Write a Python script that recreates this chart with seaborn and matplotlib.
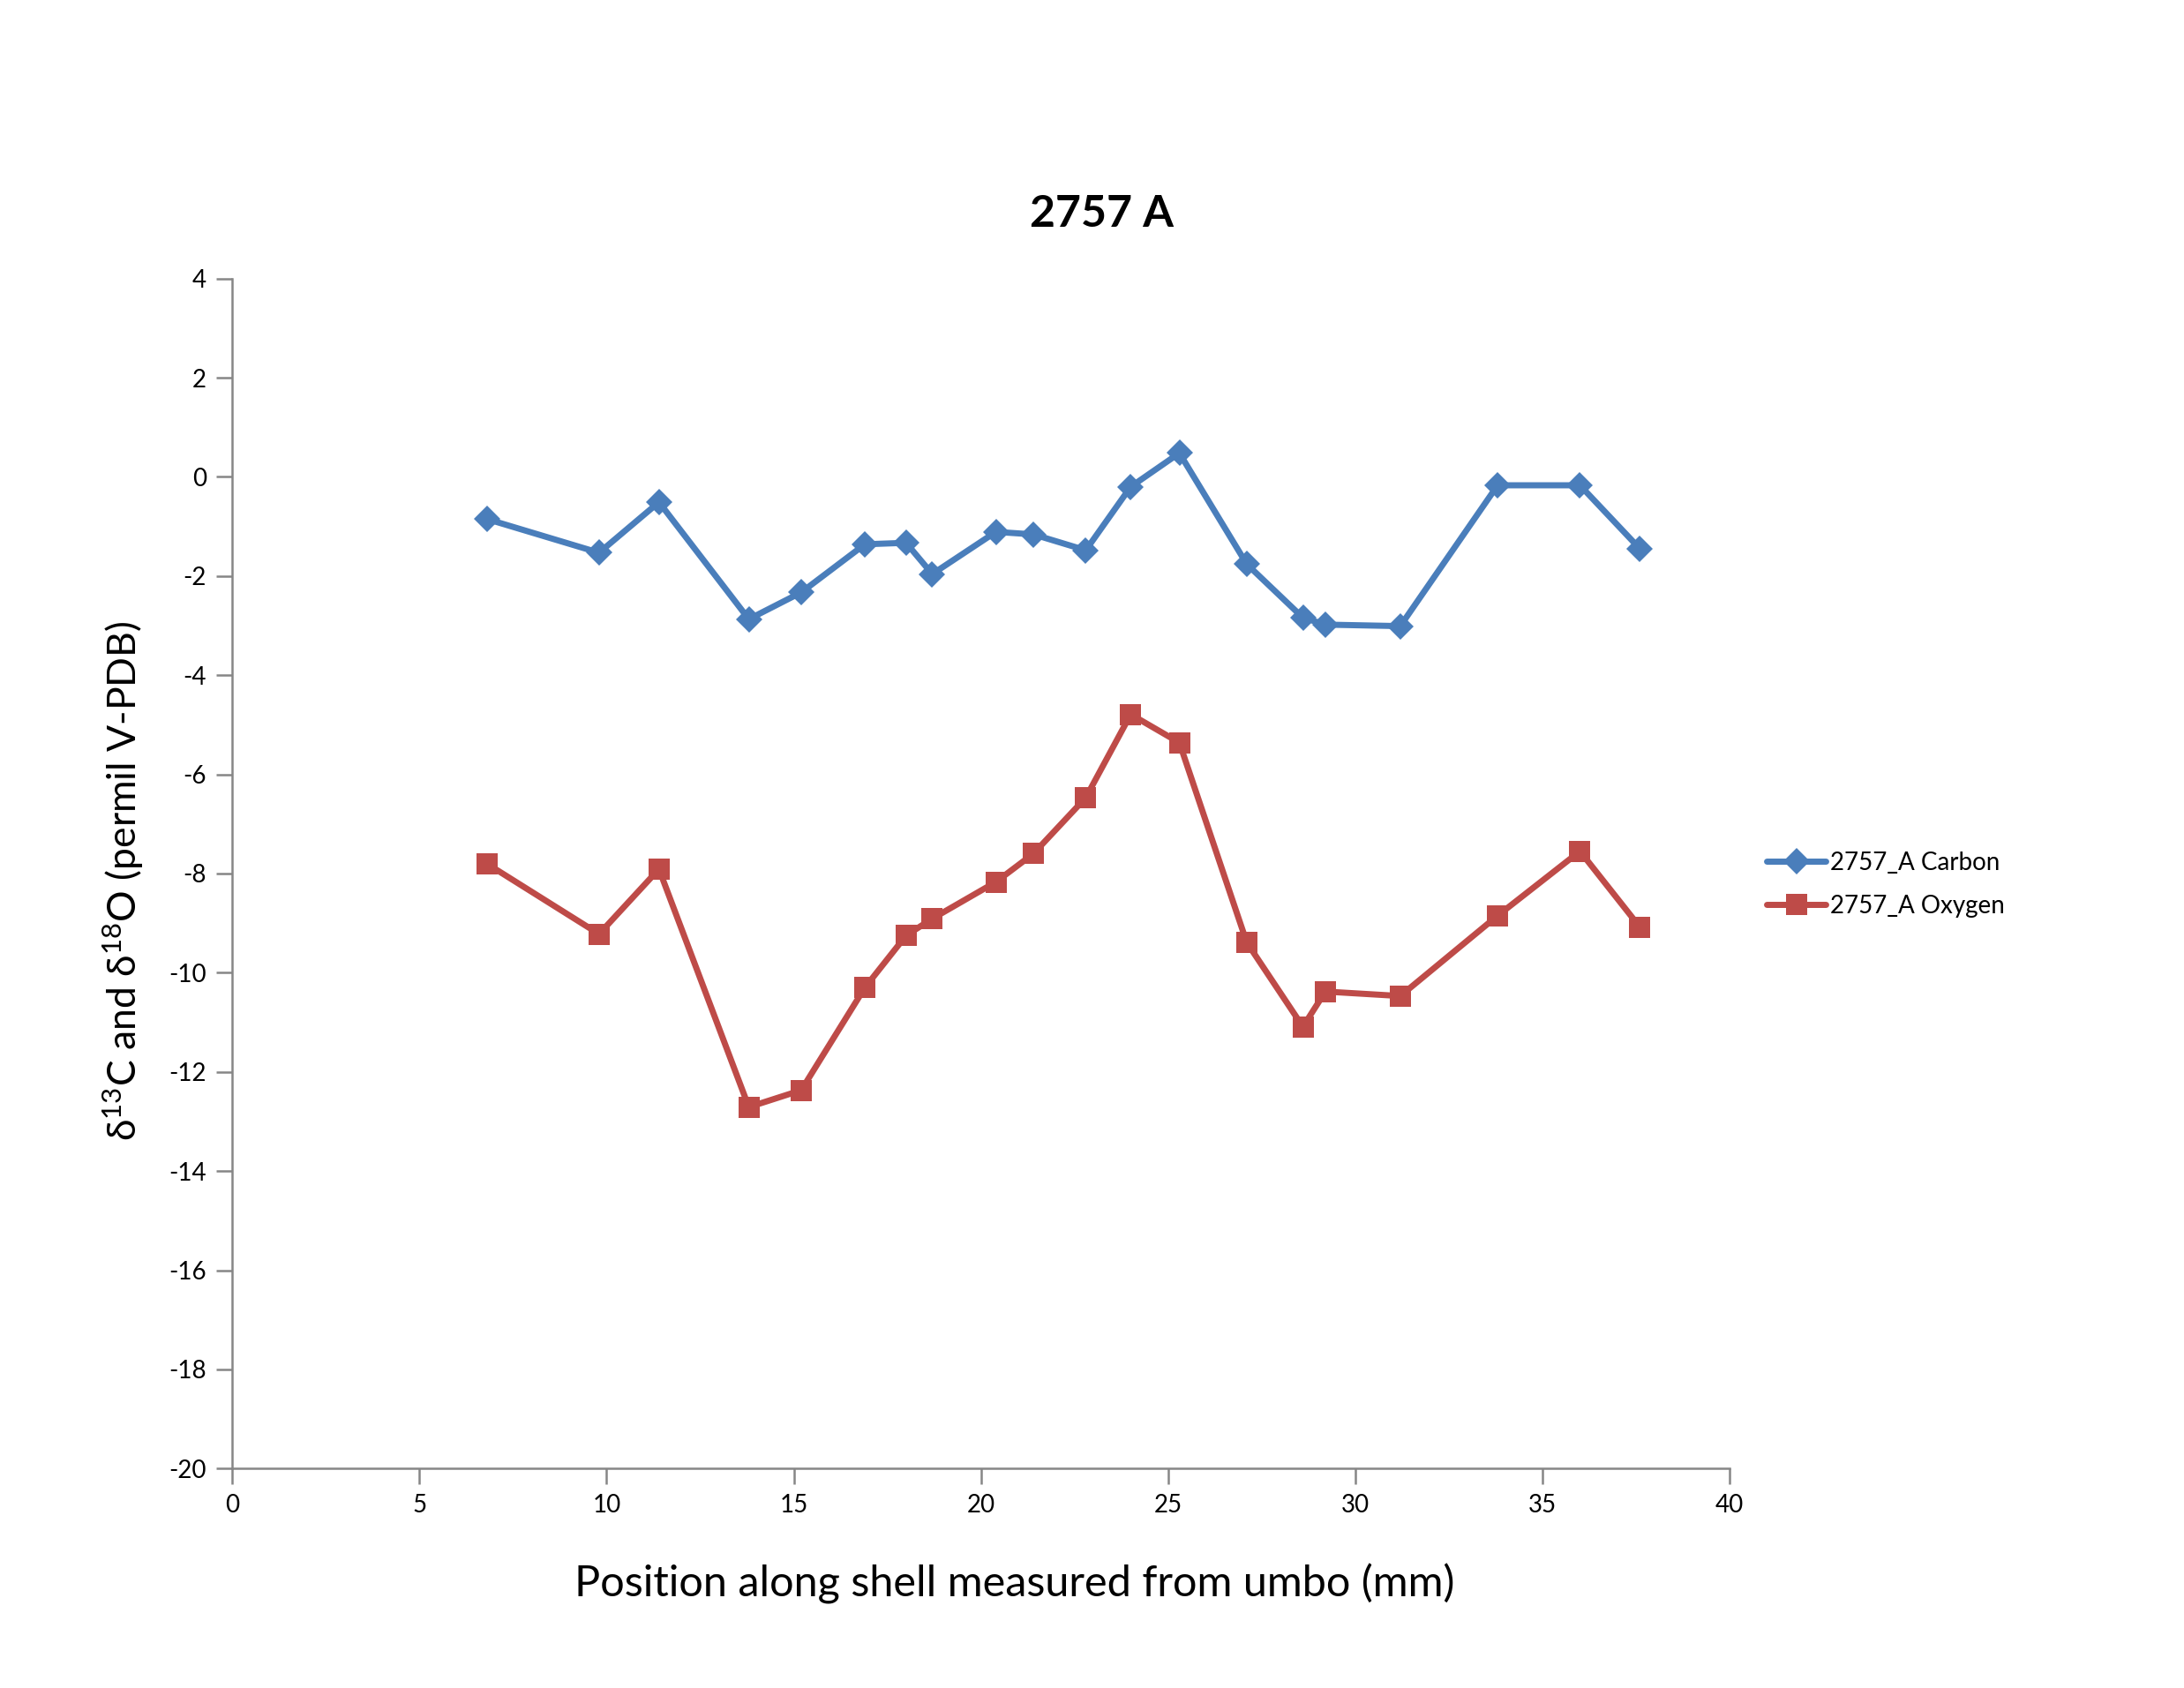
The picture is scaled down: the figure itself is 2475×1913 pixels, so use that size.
import seaborn as sns
import matplotlib.pyplot as plt
import pandas as pd

# data
position = [6.8, 9.8, 11.4, 13.8, 15.2, 16.9, 18.0, 18.7, 20.4, 21.4,
            22.8, 24.0, 25.3, 27.1, 28.6, 29.2, 31.2, 33.8, 36.0, 37.6]
carbon = [-0.85, -1.53, -0.51, -2.87, -2.33, -1.36, -1.33, -1.96, -1.11, -1.16,
          -1.48, -0.20, 0.48, -1.76, -2.84, -2.98, -3.01, -0.17, -0.17, -1.45]
oxygen = [-7.80, -9.22, -7.91, -12.71, -12.37, -10.30, -9.25, -8.91, -8.17, -7.60,
          -6.47, -4.79, -5.36, -9.39, -11.09, -10.38, -10.47, -8.85, -7.55, -9.08]
series_names = ['2757_A Carbon', '2757_A Oxygen']
x_ticks = list(range(0, 45, 5))
y_ticks = list(range(-20, 6, 2))

df = pd.DataFrame({'pos': position, 'carbon': carbon, 'oxygen': oxygen})

sns.set_theme(style='white')
plt.rcParams['font.family'] = ['Lato', 'DejaVu Sans']
plt.rcParams['mathtext.fontset'] = 'custom'
plt.rcParams['mathtext.rm'] = 'Lato'
plt.rcParams['mathtext.it'] = 'Lato:italic'
plt.rcParams['mathtext.bf'] = 'Lato:bold'
plt.rcParams['axes.unicode_minus'] = False
plt.rcParams['text.color'] = 'black'
plt.rcParams['axes.labelcolor'] = 'black'
plt.rcParams['xtick.color'] = 'black'
plt.rcParams['ytick.color'] = 'black'

fig = plt.figure(figsize=(24.75, 19.13), dpi=100)
ax = fig.add_axes([0.1063, 0.130, 0.6857, 0.705])

blue = '#4A7EBB'
red = '#BE4B48'
sns.lineplot(data=df, x='pos', y='carbon', ax=ax, color=blue, lw=5,
             marker='D', markersize=15, markeredgewidth=0, label=series_names[0],
             estimator=None, sort=False)
sns.lineplot(data=df, x='pos', y='oxygen', ax=ax, color=red, lw=5,
             marker='s', markersize=17, markeredgewidth=0, label=series_names[1],
             estimator=None, sort=False)

ax.set_xlim(0, 40)
ax.set_ylim(-20, 4)
ax.set_xticks(x_ticks)
ax.set_yticks(y_ticks)
ax.tick_params(axis='both', direction='out', length=13, width=1.8,
               color='#868686', labelcolor='black', labelsize=20, pad=8,
               left=True, bottom=True)
for side in ['top', 'right']:
    ax.spines[side].set_visible(False)
for side in ['left', 'bottom']:
    ax.spines[side].set_color('#868686')
    ax.spines[side].set_linewidth(1.8)

ax.set_xlabel('Position along shell measured from umbo (mm)', fontsize=35, va='center')
ax.xaxis.set_label_coords(0.5226, -0.097)
ax.set_ylabel(r'δ$^{13}$C and δ$^{18}$O (permil V-PDB)', fontsize=32, va='center')
ax.yaxis.set_label_coords(-0.0724, 0.494)

fig.text(0.5045, 0.873, '2757 A', fontsize=36, fontweight='bold',
         ha='center', va='center')

handles, labels = ax.get_legend_handles_labels()
ax.get_legend().remove()
fig.legend(handles, labels, loc='center left', bbox_to_anchor=(0.809, 0.476),
           frameon=False, fontsize=20, handlelength=2.4, handletextpad=0.2,
           labelspacing=0.85, borderpad=0, borderaxespad=0, markerscale=1.0)

plt.savefig('out.png', dpi=100)
